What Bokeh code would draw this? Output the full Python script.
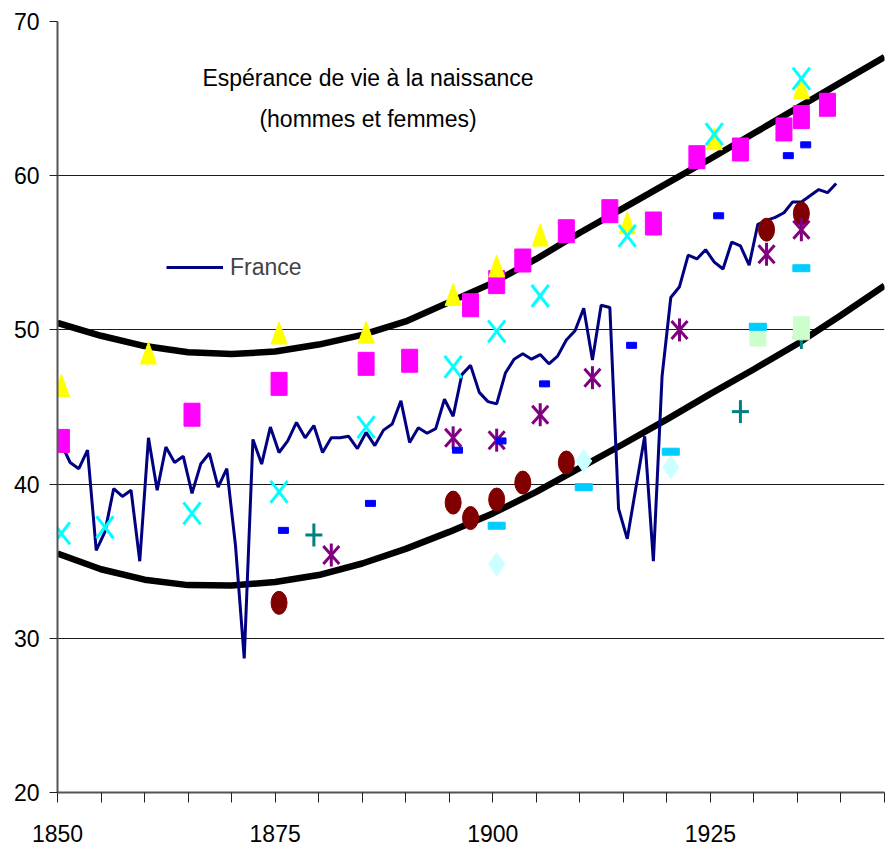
import numpy as np
from bokeh.plotting import figure
from bokeh.models import FixedTicker, Label, Legend, LegendItem, Range1d
from bokeh.embed import file_html
from bokeh.resources import INLINE

FONT = "Liberation Sans"

# ---------------- data ----------------
france_years = list(range(1850, 1940))
france_e0 = [42.6, 41.4, 41.0, 42.2, 35.7, 36.9, 39.7, 39.2, 39.6, 35.0,
             43.0, 39.6, 42.4, 41.4, 41.8, 39.4, 41.3, 42.0, 39.8, 41.0,
             36.0, 28.7, 42.9, 41.3, 43.7, 42.05, 42.8, 44.0, 43.0, 43.8,
             42.05, 43.0, 43.0, 43.1, 42.3, 43.35, 42.5, 43.5, 43.9, 45.4,
             42.7, 43.65, 43.3, 43.6, 45.5, 44.4, 47.1, 47.7, 45.95, 45.35,
             45.2, 47.2, 48.1, 48.45, 48.1, 48.4, 47.8, 48.3, 49.35, 49.95,
             51.4, 48.05, 51.6, 51.45, 38.4, 36.45, 39.8, 43.1, 35.0, 47.0,
             52.1, 52.8, 54.85, 54.6, 55.2, 54.4, 53.95, 55.7, 55.45, 54.2,
             56.85, 57.1, 57.3, 57.6, 58.3, 58.3, 58.7, 59.1, 58.9, 59.5]

band_years = list(range(1850, 1950, 5))
band_upper = [50.45, 49.62, 48.95, 48.55, 48.43, 48.6, 49.05, 49.68, 50.55, 51.8,
              53.05, 54.6, 56.3, 57.9, 59.5, 61.1, 62.75, 64.4, 66.05, 67.7]
band_lower = [35.5, 34.48, 33.8, 33.45, 33.43, 33.65, 34.1, 34.85, 35.8, 36.9,
              38.1, 39.5, 41.05, 42.6, 44.2, 45.85, 47.45, 49.1, 50.95, 52.87]

sq_years = [1850, 1865, 1875, 1885, 1890, 1897, 1900, 1903, 1908, 1913, 1918, 1923, 1928, 1933, 1935, 1938]
sq_vals = [42.8, 44.5, 46.5, 47.8, 48.0, 51.6, 53.1, 54.5, 56.4, 57.7, 56.9, 61.2, 61.7, 63.0, 63.8, 64.6]

tri_years = [1850, 1860, 1875, 1885, 1895, 1900, 1905, 1915, 1925, 1935]
tri_vals = [46.4, 48.5, 49.8, 49.85, 52.3, 54.15, 56.15, 56.95, 62.4, 65.7]

x_years = [1850, 1855, 1865, 1875, 1885, 1895, 1900, 1905, 1915, 1925, 1935]
x_vals = [36.8, 37.2, 38.1, 39.5, 43.7, 47.6, 49.9, 52.2, 56.1, 62.7, 66.3]

ast_years = [1881, 1895, 1900, 1905, 1911, 1921, 1931, 1935]
ast_vals = [35.4, 43.0, 42.85, 44.5, 46.9, 50.0, 54.9, 56.5]

circ_years = [1875, 1895, 1897, 1900, 1903, 1908, 1931, 1935]
circ_vals = [32.3, 38.8, 37.8, 39.0, 40.1, 41.4, 56.5, 57.55]

plus_years = [1879, 1928, 1935]
plus_vals = [36.7, 44.7, 49.5]

bdash_years = [1875.5, 1885.5, 1895.5, 1900.5, 1905.5, 1915.5, 1925.5, 1933.5, 1935.5]
bdash_vals = [37.0, 38.75, 42.2, 42.8, 46.5, 49.0, 57.4, 61.3, 62.0]

sdash_years = [1900, 1910, 1920, 1930, 1935]
sdash_vals = [37.3, 39.8, 42.1, 50.2, 54.0]

dia_years = [1900, 1910, 1920]
dia_vals = [34.8, 41.5, 41.1]

gsq_years = [1930, 1935]
gsq_vals = [49.7, 50.1]

x_ticks = list(range(1850, 1950, 5))
x_labelled = [1850, 1875, 1900, 1925]
y_ticks = [20, 30, 40, 50, 60, 70]

# ---------------- figure ----------------
X0, X1, Y0, Y1 = 1850, 1945, 20, 70
W, H = 885, 851
ML, MR, MT, MB = 57, 1, 21, 59
PXX = (X1 - X0) / (W - ML - MR)   # data units per screen px (x)
PXY = (Y1 - Y0) / (H - MT - MB)   # data units per screen px (y)
SHIFT = 0.45                      # mid-year placement of the observations

p = figure(width=W, height=H, x_range=Range1d(X0, X1), y_range=Range1d(Y0, Y1),
           output_backend="svg", toolbar_location=None,
           min_border_left=ML, min_border_right=MR, min_border_top=MT, min_border_bottom=MB)
p.outline_line_color = None
p.background_fill_color = "white"
p.border_fill_color = "white"

p.xgrid.grid_line_color = None
p.ygrid.grid_line_color = "#1a1a1a"
p.ygrid.grid_line_width = 1
p.ygrid.ticker = FixedTicker(ticks=y_ticks)

p.xaxis.ticker = FixedTicker(ticks=x_ticks)
p.xaxis.major_label_overrides = {t: (str(t) if t in x_labelled else "") for t in x_ticks}
p.yaxis.ticker = FixedTicker(ticks=y_ticks)
for ax in (p.xaxis, p.yaxis):
    ax.axis_line_color = "#555555"
    ax.axis_line_width = 2
    ax.major_tick_line_color = "#222222"
    ax.major_tick_in = 0
    ax.minor_tick_line_color = None
    ax.major_label_text_font = FONT
    ax.major_label_text_font_size = "23px"
    ax.major_label_text_color = "black"
p.xaxis.major_tick_out = 10
p.xaxis.major_label_standoff = 22
p.yaxis.major_tick_out = 8
p.yaxis.major_label_standoff = 10

# envelope curves
p.line(band_years, band_upper, line_color="black", line_width=6.5)
p.line(band_years, band_lower, line_color="black", line_width=6.5)

# France
fx = np.array(france_years) + SHIFT
fr = p.line(fx, france_e0, line_color="#000080", line_width=3)

def arr(years, vals, shift=SHIFT):
    return np.array(years, dtype=float) + shift, np.array(vals, dtype=float)

# magenta squares
sx, sy = arr(sq_years, sq_vals)
p.rect(sx, sy, width=16, height=23, width_units="screen", height_units="screen",
       fill_color="#FF00FF", line_color="#FF00FF")

# yellow triangles
tx, ty = arr(tri_years, tri_vals)
p.patches([[a - 8 * PXX, a, a + 8 * PXX] for a in tx],
          [[b - 11 * PXY, b + 11 * PXY, b - 11 * PXY] for b in ty],
          fill_color="#FFFF00", line_color="#FFFF00")

# cyan X
cx, cy = arr(x_years, x_vals)
p.segment(cx - 8.5 * PXX, cy - 11 * PXY, cx + 8.5 * PXX, cy + 11 * PXY, line_color="#00FFFF", line_width=3)
p.segment(cx - 8.5 * PXX, cy + 11 * PXY, cx + 8.5 * PXX, cy - 11 * PXY, line_color="#00FFFF", line_width=3)

# dark red circles
rx, ry = arr(circ_years, circ_vals)
p.ellipse(rx, ry, width=16, height=23, width_units="screen", height_units="screen",
          fill_color="#800000", line_color="#800000")

# purple asterisks
ax_, ay_ = arr(ast_years, ast_vals)
for dx0, dy0, dx1, dy1 in [(0, -11.5, 0, 11.5), (-8, -9, 8, 9), (-8, 9, 8, -9)]:
    p.segment(ax_ + dx0 * PXX, ay_ + dy0 * PXY, ax_ + dx1 * PXX, ay_ + dy1 * PXY,
              line_color="#800080", line_width=3)

# teal plus
px_, py_ = arr(plus_years, plus_vals)
p.segment(px_ - 8.5 * PXX, py_, px_ + 8.5 * PXX, py_, line_color="#008080", line_width=3)
p.segment(px_, py_ - 11.5 * PXY, px_, py_ + 11.5 * PXY, line_color="#008080", line_width=3)

# light green squares
gx, gy = arr(gsq_years, gsq_vals)
p.rect(gx, gy, width=16, height=23, width_units="screen", height_units="screen",
       fill_color="#CCFFCC", line_color="#CCFFCC")

# blue dashes
bx, by = arr(bdash_years, bdash_vals)
p.rect(bx, by, width=10, height=6, width_units="screen", height_units="screen",
       fill_color="#0000FF", line_color="#0000FF")

# light turquoise diamonds
dx, dy = arr(dia_years, dia_vals)
p.patches([[a - 8 * PXX, a, a + 8 * PXX, a] for a in dx],
          [[b, b + 11.5 * PXY, b, b - 11.5 * PXY] for b in dy],
          fill_color="#CCFFFF", line_color="#CCFFFF")

# sky blue dashes
kx, ky = arr(sdash_years, sdash_vals)
p.rect(kx, ky, width=17, height=7, width_units="screen", height_units="screen",
       fill_color="#00CCFF", line_color="#00CCFF")

# titles
p.add_layout(Label(x=1885.67, y=66.35, text="Espérance de vie à la naissance",
                   text_align="center", text_baseline="alphabetic",
                   text_font=FONT, text_font_size="23px", text_color="black"))
p.add_layout(Label(x=1885.67, y=63.69, text="(hommes et femmes)",
                   text_align="center", text_baseline="alphabetic",
                   text_font=FONT, text_font_size="23px", text_color="black"))

legend = Legend(items=[LegendItem(label="France", renderers=[fr])],
                location=(109, 511), orientation="vertical",
                background_fill_alpha=0, border_line_color=None,
                label_text_font=FONT, label_text_font_size="23px",
                glyph_width=57, glyph_height=28, label_standoff=7,
                padding=0, margin=0, spacing=0)
p.add_layout(legend, "center")

open("out.html", "w").write(file_html(p, INLINE))
